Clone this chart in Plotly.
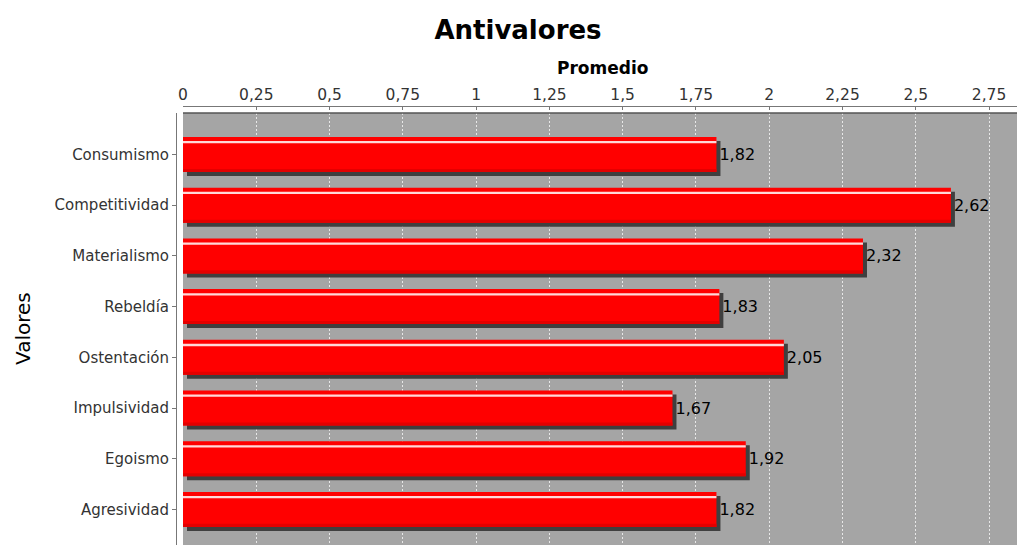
import plotly.graph_objects as go

# Chart data
categorias = ['Consumismo', 'Competitividad', 'Materialismo', 'Rebeldía',
              'Ostentación', 'Impulsividad', 'Egoismo', 'Agresividad']
promedios = [1.82, 2.62, 2.32, 1.83, 2.05, 1.67, 1.92, 1.82]
x_ticks = [0, 0.25, 0.5, 0.75, 1, 1.25, 1.5, 1.75, 2, 2.25, 2.5, 2.75]
x_tick_labels = ['0', '0,25', '0,5', '0,75', '1', '1,25', '1,5', '1,75',
                 '2', '2,25', '2,5', '2,75']

W, H = 1017, 545
FONT = 'DejaVu Sans'

# pixel geometry (JFreeChart-like layout)
plot_left, plot_top = 183, 113
px_per_unit = 293.1          # x pixels per unit
cat_px = 50.7                # pixels per category
first_cat_px = 154.5         # y pixel of first category center

x_max = (W - plot_left) / px_per_unit
y_lo = (plot_top - first_cat_px) / cat_px
y_hi = (H - first_cat_px) / cat_px

bar_w = 0.69
shadow_dx = 4 / px_per_unit
shadow_dy = 4 / cat_px

fig = go.Figure()

# drop shadow
fig.add_trace(go.Bar(
    x=promedios, y=categorias, orientation='h',
    base=shadow_dx, width=bar_w, offset=-bar_w / 2 + shadow_dy,
    marker=dict(color='#3f3f3f', line=dict(width=0)),
    hoverinfo='skip', showlegend=False,
))

# main red bars
fig.add_trace(go.Bar(
    x=promedios, y=categorias, orientation='h',
    width=bar_w, offset=-bar_w / 2,
    marker=dict(color='#ff0000', line=dict(width=0)),
    texttemplate='%{x:.2f}', textposition='outside',
    textfont=dict(family=FONT, size=16, color='#000000'),
    cliponaxis=False, showlegend=False,
))

# darker lower edge
fig.add_trace(go.Bar(
    x=promedios, y=categorias, orientation='h',
    width=0.06, offset=bar_w / 2 - 0.06,
    marker=dict(color='#e40000', line=dict(width=0)),
    hoverinfo='skip', showlegend=False,
))

# glossy highlight stripe near the top
fig.add_trace(go.Bar(
    x=promedios, y=categorias, orientation='h',
    width=0.045, offset=-bar_w / 2 + 0.08,
    marker=dict(color='#ffd8d8', line=dict(width=0)),
    hoverinfo='skip', showlegend=False,
))

fig.update_layout(
    width=W, height=H,
    barmode='overlay',
    separators=',.',
    paper_bgcolor='white',
    plot_bgcolor='#a5a5a5',
    margin=dict(l=0, r=0, t=0, b=0),
    font=dict(family=FONT, size=13, color='#333333'),
    title=dict(text='<b>Antivalores</b>', x=518 / W, xanchor='center',
               y=1 - 30 / H, yanchor='middle',
               font=dict(family=FONT, size=26, color='#000000')),
    xaxis=dict(
        domain=[plot_left / W, 1], range=[0, x_max],
        side='top', anchor='free', position=1 - 106 / H,
        tickvals=x_ticks, ticktext=x_tick_labels,
        tickfont=dict(family=FONT, size=15.5, color='#333333'),
        ticks='inside', ticklen=3, tickcolor='#777777',
        showline=True, linecolor='#777777', linewidth=1,
        showgrid=True, gridcolor='rgba(255,255,255,0.75)',
        griddash='2px,2px', gridwidth=1,
        zeroline=False, automargin=False,
    ),
    yaxis=dict(
        domain=[0, 1 - plot_top / H], range=[y_hi, y_lo],
        type='category', anchor='free', position=176 / W,
        tickfont=dict(family=FONT, size=15, color='#333333'),
        ticks='outside', ticklen=4, tickcolor='#777777',
        showline=True, linecolor='#777777', linewidth=1,
        showgrid=False, zeroline=False, automargin=False,
    ),
    annotations=[
        dict(text='<b>Promedio</b>', xref='paper', yref='paper',
             x=602 / W, y=1 - 68 / H, showarrow=False,
             xanchor='center', yanchor='middle',
             font=dict(family=FONT, size=17, color='#000000')),
        dict(text='Valores', xref='paper', yref='paper',
             x=23 / W, y=1 - 329 / H, showarrow=False, textangle=-90,
             xanchor='center', yanchor='middle',
             font=dict(family=FONT, size=20, color='#000000')),
    ],
    shapes=[
        # dark top border of plot area
        dict(type='line', xref='paper', yref='paper',
             x0=plot_left / W, x1=1, y0=1 - plot_top / H, y1=1 - plot_top / H,
             line=dict(color='#555555', width=1.5)),
    ],
)

fig.write_html('out.html',
               config={'displayModeBar': False},
               post_script="document.body.style.margin='0';"
                           "document.body.style.overflow='hidden';")
